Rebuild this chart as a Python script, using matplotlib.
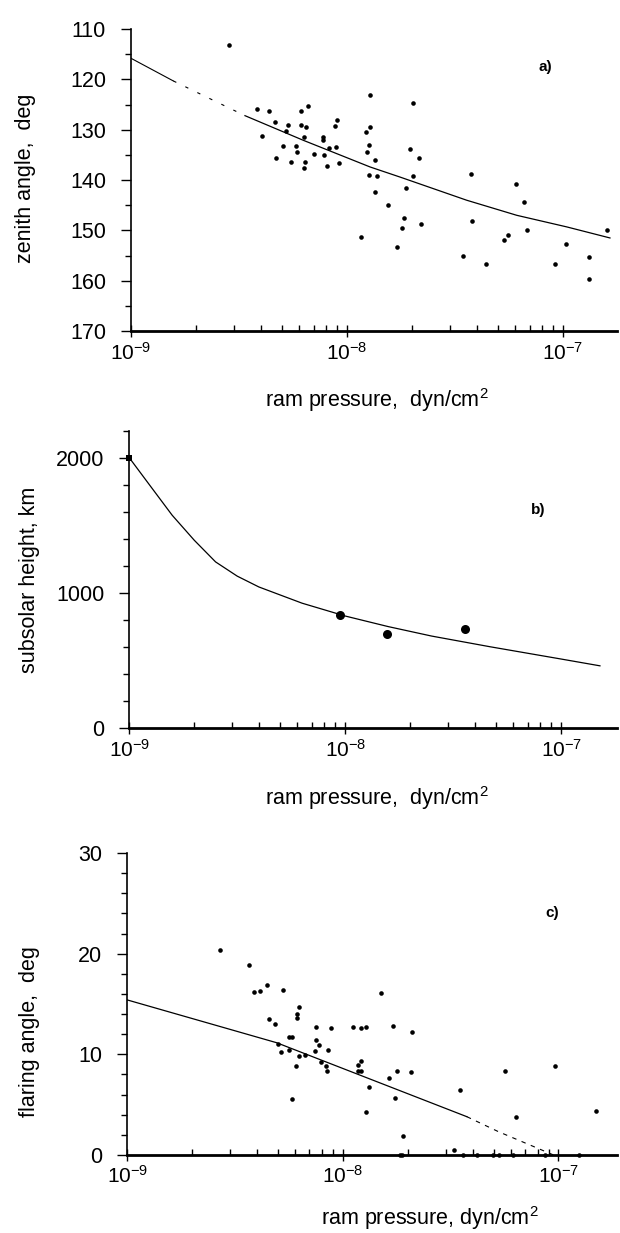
import numpy as np
import matplotlib.pyplot as plt
from matplotlib.ticker import MultipleLocator, NullFormatter, LogLocator

plt.rcParams['font.family'] = ['Liberation Sans', 'DejaVu Sans']
plt.rcParams['mathtext.fontset'] = 'custom'
plt.rcParams['mathtext.rm'] = 'Liberation Sans'
plt.rcParams['mathtext.it'] = 'Liberation Sans'
plt.rcParams['mathtext.default'] = 'regular'

### data

# a) zenith angle vs ram pressure
a_p = [2.84e-9, 3.82e-9, 4.34e-9, 4.04e-9, 4.64e-9, 4.71e-9, 5.07e-9, 5.20e-9, 5.35e-9,
       5.49e-9, 5.81e-9, 5.85e-9, 6.10e-9, 6.10e-9, 6.35e-9, 6.39e-9, 6.35e-9, 6.48e-9,
       6.60e-9, 7.01e-9, 7.77e-9, 7.77e-9, 7.85e-9, 8.05e-9, 8.28e-9, 8.80e-9, 8.85e-9,
       8.96e-9, 9.21e-9, 1.157e-8, 1.278e-8, 1.229e-8, 1.28e-8, 1.27e-8, 1.237e-8,
       1.344e-8, 1.26e-8, 1.38e-8, 1.348e-8, 1.553e-8, 2.03e-8, 1.95e-8, 2.16e-8, 2.03e-8,
       1.88e-8, 1.836e-8, 1.80e-8, 1.70e-8, 2.19e-8, 3.74e-8, 3.80e-8, 3.45e-8, 4.42e-8,
       6.06e-8, 6.60e-8, 6.79e-8, 5.58e-8, 5.31e-8, 1.03e-7, 9.18e-8, 1.315e-7, 1.315e-7,
       1.60e-7]
a_ang = [113.2, 125.9, 126.2, 131.2, 128.4, 135.6, 133.3, 130.3, 129.1,
         136.4, 133.2, 134.5, 126.2, 129.1, 131.5, 136.4, 137.6, 129.5,
         125.3, 134.8, 131.4, 132.0, 135.1, 137.3, 133.7, 129.3, 133.4,
         128.0, 136.6, 151.4, 123.1, 130.4, 129.5, 133.1, 134.4,
         136.1, 139.0, 139.2, 142.3, 144.9, 124.7, 133.9, 135.6, 139.2,
         141.5, 147.6, 149.5, 153.3, 148.8, 138.8, 148.2, 155.0, 156.7,
         140.8, 144.4, 149.9, 150.9, 151.9, 152.7, 156.7, 155.2, 159.7,
         150.0]
a_fit_p = [1.0e-9, 1.57e-9, 3.37e-9, 6.28e-9, 1.28e-8, 1.76e-8, 3.58e-8, 6.11e-8, 1.04e-7, 1.65e-7]
a_fit_ang = [115.8, 120.3, 127.2, 132.1, 137.4, 139.4, 144.0, 147.0, 149.3, 151.5]

# b) subsolar height vs ram pressure
b_p = [9.5e-9, 1.56e-8, 3.58e-8]
b_h = [837, 699, 734]
b_p0, b_h0 = 1.0e-9, 2000
b_fit_p = [1.0e-9, 1.26e-9, 1.58e-9, 2.0e-9, 2.51e-9, 3.16e-9, 3.98e-9, 5.01e-9, 6.31e-9,
           1.0e-8, 1.58e-8, 2.51e-8, 4.68e-8, 1.0e-7, 1.51e-7]
b_fit_h = [2000, 1785, 1575, 1390, 1230, 1125, 1045, 985, 925,
           830, 752, 682, 603, 512, 462]

# c) flaring angle vs ram pressure
c_p = [2.69e-9, 3.66e-9, 3.88e-9, 4.14e-9, 4.45e-9, 5.28e-9, 1.51e-8,
       6.24e-9, 6.15e-9, 6.11e-9, 4.56e-9, 4.86e-9, 7.53e-9, 8.81e-9, 1.115e-8, 1.21e-8,
       1.28e-8, 1.71e-8, 2.09e-8, 5.63e-9, 5.83e-9, 4.99e-9, 7.49e-9, 7.73e-9, 5.61e-9,
       5.15e-9, 7.41e-9, 8.54e-9, 6.28e-9, 6.70e-9, 6.07e-9, 7.93e-9, 8.38e-9, 8.42e-9,
       1.215e-8, 1.173e-8, 1.21e-8, 1.173e-8, 1.79e-8, 2.06e-8, 1.64e-8, 1.32e-8, 5.81e-9,
       1.28e-8, 1.75e-8, 1.91e-8, 3.51e-8, 3.29e-8, 5.66e-8, 6.37e-8, 9.68e-8, 1.485e-7,
       1.84e-8, 1.88e-8, 3.60e-8, 4.18e-8, 4.99e-8, 5.27e-8, 6.18e-8, 8.67e-8, 1.24e-7]
c_ang = [20.4, 18.9, 16.2, 16.3, 16.9, 16.4, 16.1,
         14.7, 14.0, 13.6, 13.5, 13.0, 12.7, 12.6, 12.7, 12.6,
         12.7, 12.8, 12.2, 11.7, 11.7, 11.0, 11.4, 10.9, 10.4,
         10.2, 10.3, 10.4, 9.8, 9.9, 8.8, 9.2, 8.8, 8.3,
         9.3, 8.9, 8.3, 8.3, 8.3, 8.2, 7.6, 6.8, 5.6,
         4.3, 5.7, 1.9, 6.5, 0.5, 8.3, 3.8, 8.8, 4.4,
         0, 0, 0, 0, 0, 0, 0, 0, 0]
c_fit_p = [1.0e-9, 4.93e-9, 3.76e-8, 5.27e-8, 9.48e-8]
c_fit_ang = [15.4, 11.15, 3.8, 2.31, 0.0]

xticks = [1e-9, 1e-8, 1e-7]
xlab = 'ram pressure,  dyn/cm$^2$'


def decorate(ax, xlim, ylabel, ylab_xy, xlabel, xlab_xy, tag, tag_xy):
    '''common look of the three panels'''
    ax.set_xscale('log')
    ax.set_xlim(xlim)
    for s in ['top', 'right']:
        ax.spines[s].set_visible(False)
    ax.spines['left'].set_linewidth(1.2)
    ax.spines['bottom'].set_linewidth(2.0)
    ax.set_xticks(xticks)
    ax.xaxis.set_minor_locator(LogLocator(base=10, subs=np.arange(2, 10)))
    ax.xaxis.set_minor_formatter(NullFormatter())
    ax.tick_params(axis='x', which='major', direction='inout', length=9, width=1, labelsize=15, pad=3)
    ax.tick_params(axis='x', which='minor', direction='in', length=4, width=1)
    ax.tick_params(axis='y', which='major', direction='out', length=7, width=1, labelsize=15.5, pad=11)
    ax.tick_params(axis='y', which='minor', direction='out', length=4, width=1)
    ax.set_ylabel(ylabel, fontsize=15.5, rotation=90, ha='center', va='center', rotation_mode='anchor')
    ax.yaxis.set_label_coords(*ylab_xy)
    ax.set_xlabel(xlabel, fontsize=15.5, va='center')
    ax.xaxis.set_label_coords(*xlab_xy)
    ax.text(tag_xy[0], tag_xy[1], tag, transform=ax.transAxes, fontsize=11,
            fontweight='bold', ha='center', va='center')


fig = plt.figure(figsize=(6.2, 12.33), dpi=100)

# a)
ax = fig.add_axes([0.2113, 0.7315, 0.784, 0.2449])
ax.plot(a_fit_p[:2], a_fit_ang[:2], color='k', lw=0.8)
ax.plot(a_fit_p[1:3], a_fit_ang[1:3], color='k', lw=0.8, dashes=(3, 9))
ax.plot(a_fit_p[2:], a_fit_ang[2:], color='k', lw=0.9)
ax.plot(a_p, a_ang, 'o', color='k', ms=3.3, mew=0)
ax.set_ylim(170, 110)
ax.yaxis.set_major_locator(MultipleLocator(10))
ax.yaxis.set_minor_locator(MultipleLocator(5))
decorate(ax, (1e-9, 1.78e-7), 'zenith angle,  deg', (-0.218, 0.507),
         xlab, (0.506, -0.228), 'a)', (0.852, 0.874))

# b)
ax = fig.add_axes([0.2085, 0.4093, 0.7866, 0.2414])
ax.plot(b_fit_p, b_fit_h, color='k', lw=0.9)
ax.plot(b_p, b_h, 'o', color='k', ms=6.5, mew=0)
ax.plot([b_p0], [b_h0], 's', color='k', ms=5, mew=0, clip_on=False)
ax.set_ylim(0, 2200)
ax.yaxis.set_major_locator(MultipleLocator(1000))
ax.yaxis.set_minor_locator(MultipleLocator(200))
decorate(ax, (1e-9, 1.81e-7), 'subsolar height, km', (-0.204, 0.5),
         xlab, (0.508, -0.234), 'b)', (0.838, 0.734))

# c)
ax = fig.add_axes([0.2053, 0.0633, 0.79, 0.2449])
ax.plot(c_fit_p[:3], c_fit_ang[:3], color='k', lw=0.9)
ax.plot(c_fit_p[2:], c_fit_ang[2:], color='k', lw=0.8, dashes=(4, 5))
ax.plot(c_p, c_ang, 'o', color='k', ms=3.3, mew=0, clip_on=False)
ax.set_ylim(0, 30)
ax.yaxis.set_major_locator(MultipleLocator(10))
ax.yaxis.set_minor_locator(MultipleLocator(2))
decorate(ax, (1e-9, 1.87e-7), 'flaring angle,  deg', (-0.199, 0.407),
         'ram pressure, dyn/cm$^2$', (0.618, -0.208), 'c)', (0.867, 0.80))

fig.savefig('out.png', dpi=100)
